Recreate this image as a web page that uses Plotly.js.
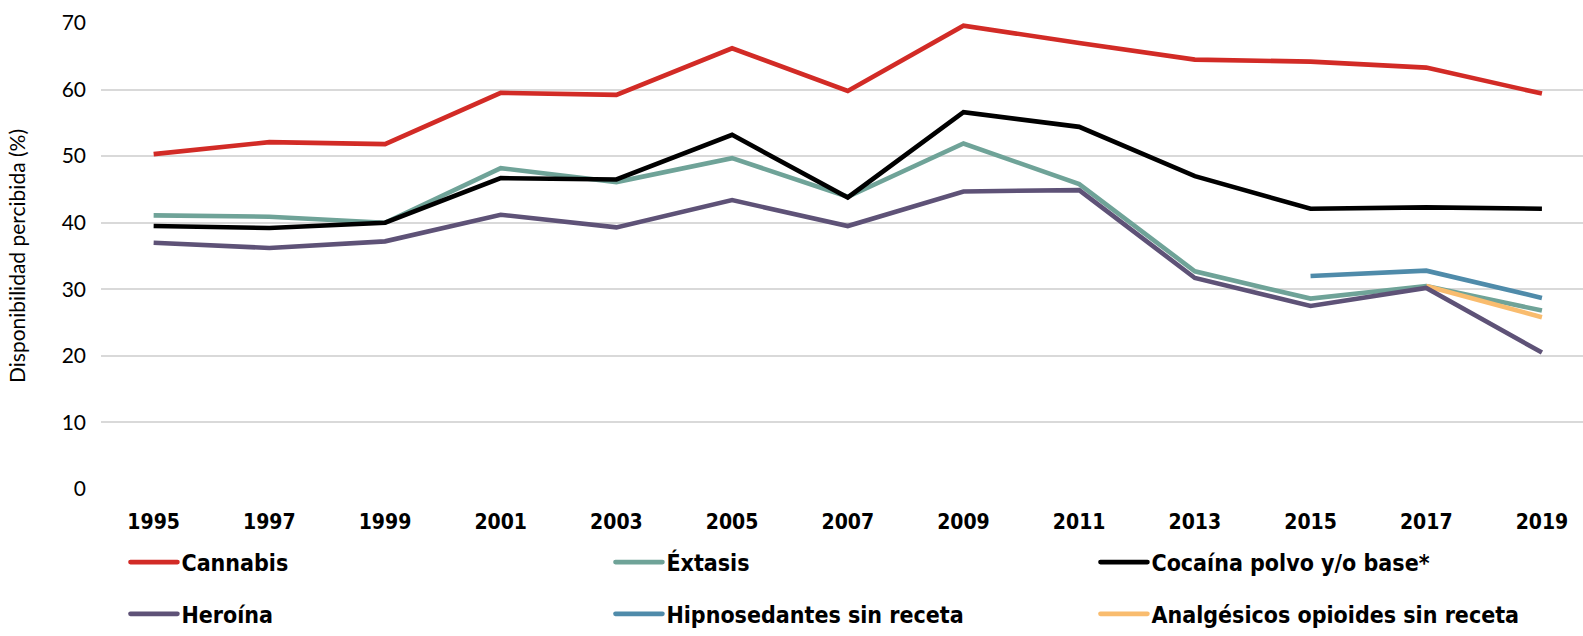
<!DOCTYPE html>
<html>
<head>
<meta charset="utf-8">
<script src="https://cdn.plot.ly/plotly-3.0.1.min.js"></script>
<style>html,body{margin:0;padding:0;background:#fff;}</style>
</head>
<body>
<div id="chart" style="width:1583px;height:636px;"></div>
<script>
const years = [1995, 1997, 1999, 2001, 2003, 2005, 2007, 2009, 2011, 2013, 2015, 2017, 2019];
const tickLabels = ["1995","1997","1999","2001","2003","2005","2007","2009","2011","2013","2015","2017","2019"];
const cannabis = [50.3, 52.1, 51.8, 59.5, 59.2, 66.2, 59.8, 69.6, 67.0, 64.5, 64.2, 63.3, 59.4];
const extasis = [41.1, 40.9, 40.0, 48.2, 46.1, 49.7, 43.9, 51.9, 45.8, 32.7, 28.6, 30.5, 26.8];
const cocaina = [39.5, 39.2, 40.0, 46.7, 46.5, 53.2, 43.8, 56.6, 54.4, 47.0, 42.1, 42.3, 42.1];
const heroina = [37.0, 36.2, 37.2, 41.2, 39.3, 43.4, 39.5, 44.7, 44.9, 31.7, 27.5, 30.2, 20.5];
const hipnosedantes = [null, null, null, null, null, null, null, null, null, null, 32.0, 32.8, 28.7];
const analgesicos = [null, null, null, null, null, null, null, null, null, null, null, 30.5, 25.8];
const yTicks = [0, 10, 20, 30, 40, 50, 60, 70];

const lw = 4.6;
function tr(name, y, color, legend, rank) {
  return {x: years, y: y, name: name, type: 'scatter', mode: 'lines',
    line: {color: color, width: lw}, legend: legend, legendrank: rank, connectgaps: false, hoverinfo: 'skip'};
}
const data = [
  tr('Cannabis', cannabis, '#D22B26', 'legend', 1),
  tr('Éxtasis', extasis, '#6FA398', 'legend', 2),
  tr('Cocaína polvo y/o base*', cocaina, '#000000', 'legend', 3),
  tr('Heroína', heroina, '#5E5277', 'legend2', 4),
  tr('Hipnosedantes sin receta', hipnosedantes, '#4F8BAA', 'legend2', 5),
  tr('Analgésicos opioides sin receta', analgesicos, '#F9BC6E', 'legend2', 6)
];
const order = [4, 1, 5, 3, 2, 0];

const condFam = 'DejaVu Sans Condensed, Liberation Sans Narrow, Arial Narrow, Liberation Sans, sans-serif';
const legFont = {family: condFam, size: 23, color: '#000', weight: 700};
const legBase = {orientation: 'h', xanchor: 'left', yanchor: 'middle', x: 0.0165,
  entrywidth: 424, entrywidthmode: 'pixels', font: legFont, bgcolor: 'rgba(0,0,0,0)', traceorder: 'normal',
  itemwidth: 46};

const layout = {
  width: 1583, height: 636,
  margin: {l: 101, r: 0, t: 23, b: 147, autoexpand: false},
  paper_bgcolor: '#fff', plot_bgcolor: '#fff',
  showlegend: true,
  xaxis: {
    type: 'linear', range: [1994.09, 2019.71],
    tickmode: 'array', tickvals: years, ticktext: tickLabels,
    showgrid: false, zeroline: false, showline: false, ticks: '',
    tickfont: {family: condFam, size: 21, color: '#000', weight: 700},
    ticklabelstandoff: 18
  },
  yaxis: {
    range: [0, 70], tickmode: 'array', tickvals: yTicks,
    showgrid: true, gridcolor: '#D9D9D9', gridwidth: 2, zeroline: false, showline: false, ticks: '',
    tickfont: {family: 'Lato, DejaVu Sans, sans-serif', size: 21, color: '#000'},
    ticklabelstandoff: 14,
    title: {text: 'Disponibilidad percibida (%)', font: {family: 'Lato, DejaVu Sans, sans-serif', size: 21, color: '#000'}, standoff: 30}
  },
  legend: Object.assign({}, legBase, {y: -0.157}),
  legend2: Object.assign({}, legBase, {y: -0.268})
};

Plotly.newPlot('chart', order.map(i => data[i]), layout, {staticPlot: true, displayModeBar: false}).then(function (gd) {
  // lengthen legend line samples to match the reference
  gd.querySelectorAll('.legendlines path').forEach(function (p) {
    p.setAttribute('d', 'M5,0h47');
    p.style.strokeLinecap = 'round';
  });
});
</script>
</body>
</html>
